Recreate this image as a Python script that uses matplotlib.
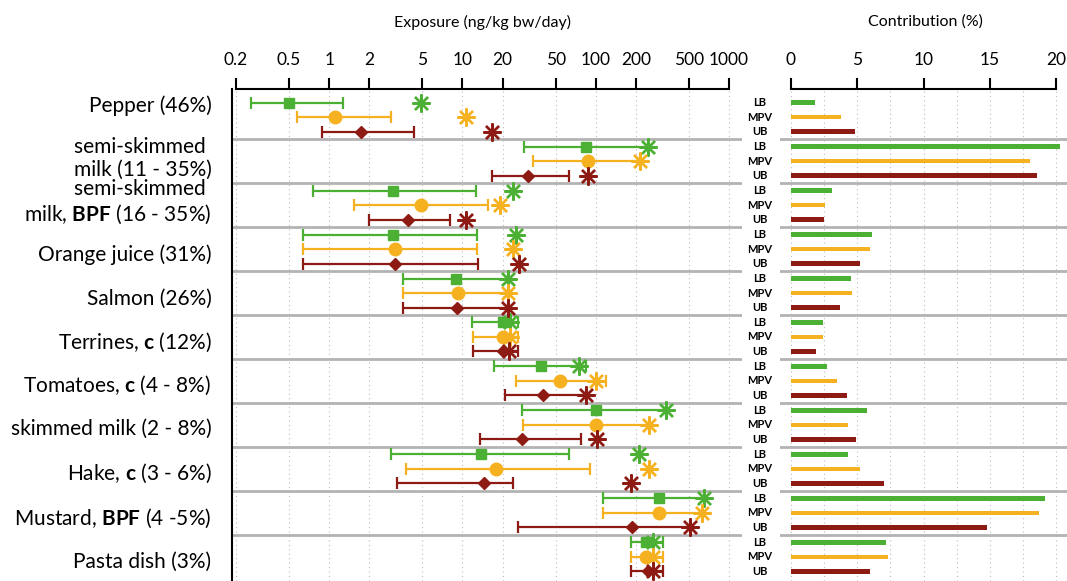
import matplotlib
matplotlib.use("Agg")
import matplotlib.pyplot as plt
import numpy as np
from matplotlib.ticker import FixedLocator

plt.rcParams['font.family'] = 'Lato'
plt.rcParams['mathtext.fontset'] = 'custom'
plt.rcParams['mathtext.rm'] = 'Lato'
plt.rcParams['mathtext.bf'] = 'Lato:bold'

# === data
foods = ["Pepper (46%)",
         "semi-skimmed \nmilk (11 - 35%)",
         "semi-skimmed \nmilk, $\\mathbf{BPF}$ (16 - 35%)",
         "Orange juice (31%)",
         "Salmon (26%)",
         "Terrines, $\\mathbf{c}$ (12%)",
         "Tomatoes, $\\mathbf{c}$ (4 - 8%)",
         "skimmed milk (2 - 8%)",
         "Hake, $\\mathbf{c}$ (3 - 6%)",
         "Mustard, $\\mathbf{BPF}$ (4 -5%)",
         "Pasta dish (3%)"]
levels = ["LB", "MPV", "UB"]

# exposure (ng/kg bw/day): low / central / high whisker, plus the asterisk value
lb_lo = [0.26, 29, 0.75, 0.64, 3.6, 11.7, 17.3, 28, 2.9, 114, 183]
lb_mid = [0.50, 85, 3.0, 3.0, 8.9, 20, 39, 100, 13.8, 300, 238]
lb_hi = [1.28, 245, 12.6, 12.9, 22, 26, 85, 337, 63, 652, 318]
lb_star = [4.9, 245, 24, 25, 22, 22.7, 75, 337, 212, 652, 270]

mpv_lo = [0.57, 34, 1.53, 0.64, 3.6, 11.9, 25, 28.6, 3.8, 113, 183]
mpv_mid = [1.1, 88, 4.9, 3.1, 9.2, 20, 54, 100, 17.7, 296, 240]
mpv_hi = [2.9, 215, 15.6, 12.9, 22, 26, 119, 251, 91, 630, 320]
mpv_star = [10.6, 215, 19, 24, 22, 22.7, 100, 251, 251, 630, 270]

ub_lo = [0.88, 16.6, 2.0, 0.64, 3.6, 11.9, 21, 13.5, 3.2, 26, 183]
ub_mid = [1.73, 31, 3.9, 3.1, 9.1, 20, 40, 28, 14.5, 188, 245]
ub_hi = [4.3, 63, 8.0, 13.1, 22, 26, 85, 77, 24, 509, 320]
ub_star = [16.6, 88, 10.7, 26.7, 22, 22.5, 85, 102, 183, 509, 270]

# contribution (%)
lb_contrib = [1.8, 20.3, 3.1, 6.1, 4.5, 2.4, 2.7, 5.7, 4.3, 19.2, 7.2]
mpv_contrib = [3.8, 18.0, 2.6, 6.0, 4.6, 2.4, 3.5, 4.3, 5.2, 18.7, 7.3]
ub_contrib = [4.8, 18.6, 2.5, 5.2, 3.7, 1.9, 4.2, 4.9, 7.0, 14.8, 6.0]

exp_ticks = [0.2, 0.5, 1, 2, 5, 10, 20, 50, 100, 200, 500, 1000]
exp_ticklabels = ["0.2", "0.5", "1", "2", "5", "10", "20", "50", "100", "200", "500", "1000"]

colors = ["#4cb034", "#f5b120", "#8e1a14"]
markers = ["s", "o", "D"]
msizes = [7.5, 9, 6]
offsets = [-0.33, 0.0, 0.33]
label_shift = [-0.27, -0.06, -0.06, 0.13, 0.13, 0.12, 0.1, 0.1, 0.1, 0.12, 0.12]

series = [(lb_lo, lb_mid, lb_hi, lb_star, lb_contrib),
          (mpv_lo, mpv_mid, mpv_hi, mpv_star, mpv_contrib),
          (ub_lo, ub_mid, ub_hi, ub_star, ub_contrib)]

W, H = 1067, 581
fig = plt.figure(figsize=(W / 100, H / 100), dpi=100)
ax = fig.add_axes([232 / W, 0, (742 - 232) / W, (H - 89) / H])
ax2 = fig.add_axes([780 / W, 0, (W - 780) / W, (H - 89) / H])

n = len(foods)
y = np.arange(n)

# === left: exposure
for k, (lo, mid, hi, star, _) in enumerate(series):
    lo, mid, hi = np.array(lo), np.array(mid), np.array(hi)
    yy = y + offsets[k]
    ax.errorbar(mid, yy, xerr=[mid - lo, hi - mid], fmt=markers[k], color=colors[k],
                ms=msizes[k], elinewidth=1.6, capsize=4.5, capthick=1.6, zorder=3)
    ax.plot(star, yy, linestyle='none', marker=(8, 2, 0), ms=13, mew=1.7,
            color=colors[k], zorder=4)

ax.set_xscale('log')
ax.set_xlim(0.1866, 1250)
ax.set_ylim(10.55, -0.64)
ax.xaxis.tick_top()
ax.xaxis.set_major_locator(FixedLocator(exp_ticks))
ax.xaxis.set_minor_locator(FixedLocator([]))
ax.set_xticklabels(exp_ticklabels)
ax.tick_params(axis='x', which='major', direction='out', length=8, width=1.5,
               labelsize=12.5, pad=7)
ax.set_yticks([])
for s in ['right', 'bottom']:
    ax.spines[s].set_visible(False)
ax.spines['top'].set_bounds(0.2, 1000)
ax.spines['top'].set_linewidth(1.5)
ax.spines['left'].set_linewidth(1.5)
for t in exp_ticks:
    ax.axvline(t, color='#bbbbbb', lw=0.8, ls=(0, (1, 3)), zorder=0)
for i in range(n - 1):
    ax.axhline(i + 0.5, color='#b3b3b3', lw=2, zorder=1)

for i, lab in enumerate(foods):
    ax.text(-0.04, i + label_shift[i], lab, transform=ax.get_yaxis_transform(),
            ha='right', va='center', fontsize=15, linespacing=1.2)

# === right: contribution
for k, (_, _, _, _, contrib) in enumerate(series):
    ax2.barh(y + offsets[k], contrib, height=0.1, color=colors[k], zorder=3)
    for i in range(n):
        ax2.text(-0.07, i + offsets[k], levels[k], transform=ax2.get_yaxis_transform(),
                 ha='center', va='center', fontsize=8, fontweight='bold')

ax2.set_xlim(-0.83, 20.83)
ax2.set_ylim(10.55, -0.64)
ax2.xaxis.tick_top()
ax2.xaxis.set_major_locator(FixedLocator([0, 5, 10, 15, 20]))
ax2.xaxis.set_minor_locator(FixedLocator([]))
ax2.tick_params(axis='x', direction='out', length=8, width=1.5, labelsize=12.5, pad=7)
ax2.set_yticks([])
for s in ['right', 'bottom', 'left']:
    ax2.spines[s].set_visible(False)
ax2.spines['top'].set_bounds(0, 20)
ax2.spines['top'].set_linewidth(1.5)
for t in np.arange(0, 20.1, 2.5):
    ax2.axvline(t, color='#bbbbbb', lw=0.8, ls=(0, (1, 3)), zorder=0)
for i in range(n - 1):
    ax2.axhline(i + 0.5, color='#b3b3b3', lw=2, zorder=1)

fig.text(483 / W, 1 - 22 / H, "Exposure (ng/kg bw/day)", ha='center', va='center',
         fontsize=11.5)
fig.text(925 / W, 1 - 22 / H, "Contribution (%)", ha='center', va='center',
         fontsize=11.5)

fig.savefig("out.png", dpi=100)
